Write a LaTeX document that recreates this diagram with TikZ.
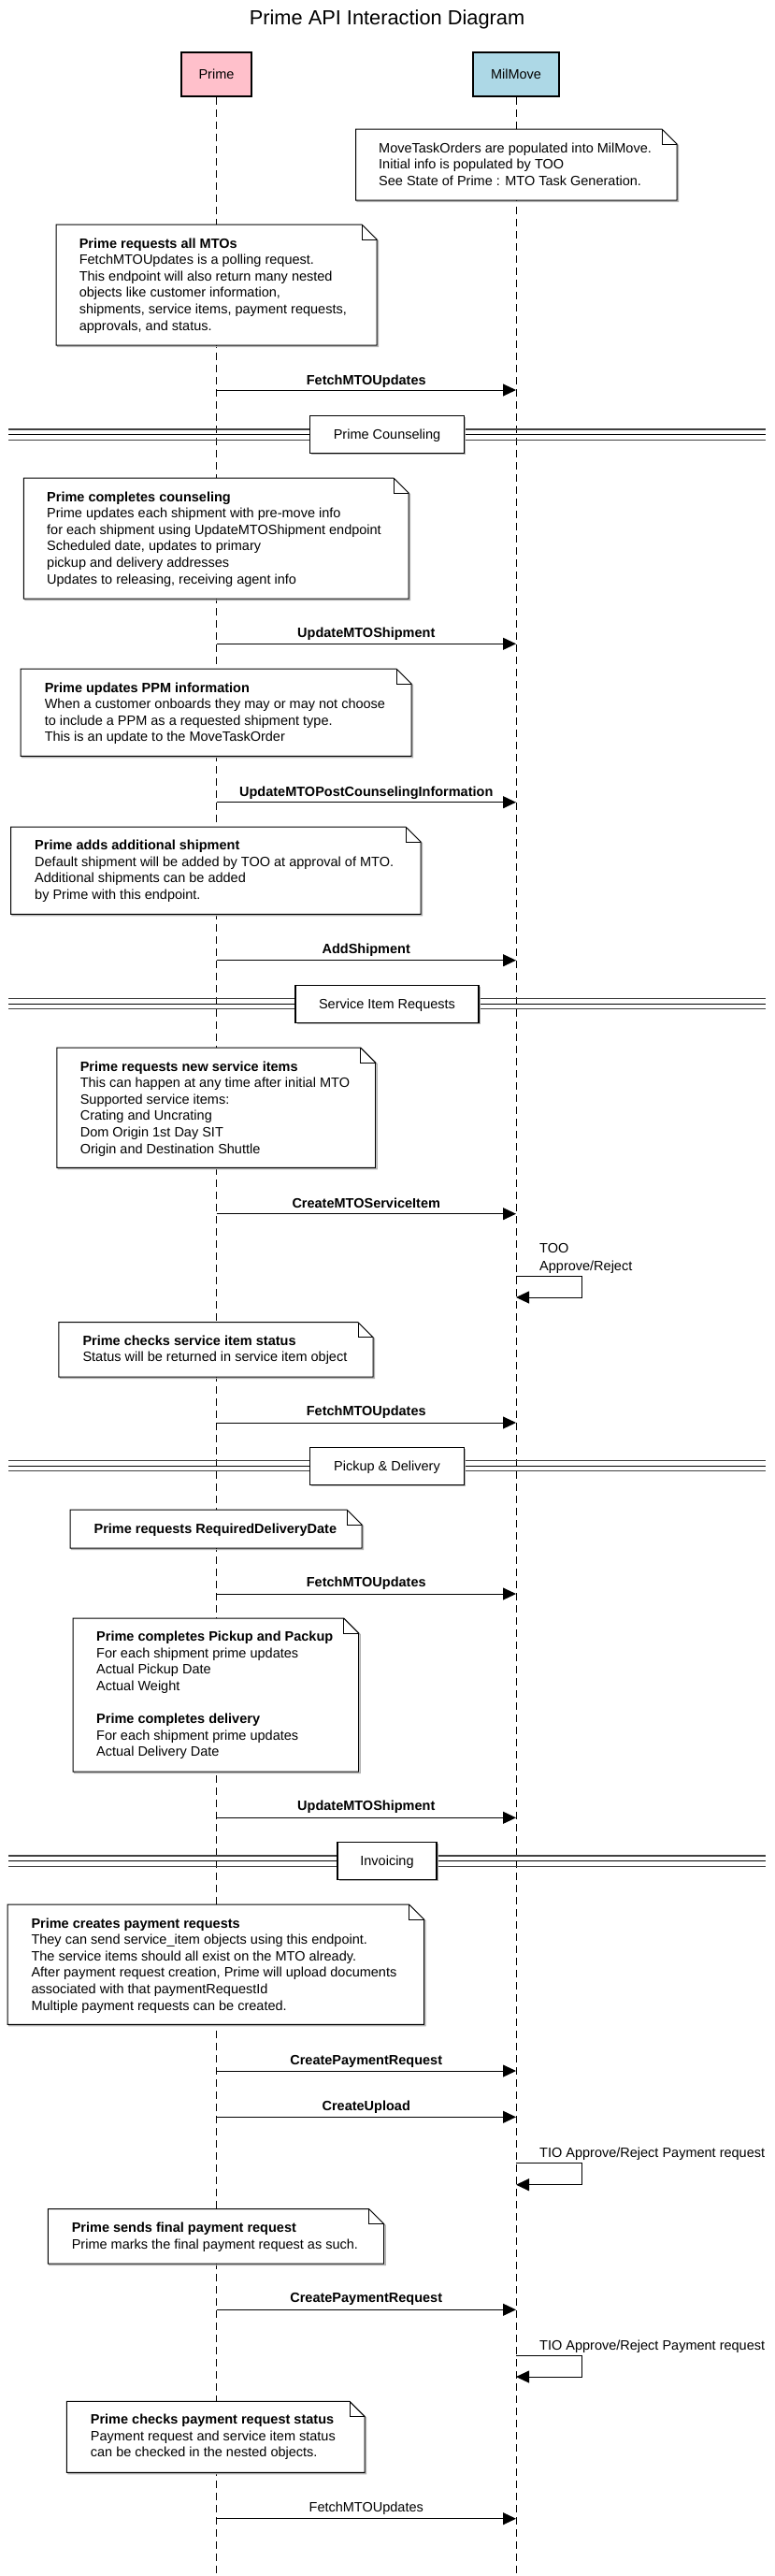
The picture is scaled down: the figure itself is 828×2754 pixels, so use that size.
\documentclass[tikz,border=0pt]{standalone}
\usepackage{fontspec}
\setmainfont{Liberation Sans}
\usetikzlibrary{arrows.meta,shadows}
\definecolor{primepink}{HTML}{FFC0CB}
\definecolor{milblue}{HTML}{ADD8E6}
\tikzset{
  lifeline/.style={line width=1pt, dash pattern=on 8pt off 5pt},
  partbox/.style={draw, line width=2.6pt, font=\fontsize{14.5}{17.6}\selectfont, text height=10.5pt, text depth=0.5pt, inner sep=0pt},
  notefill/.style={draw, line width=1pt, fill=white, line join=miter},
  noteshadow/.style={draw=black!30, line width=1.3pt},
  notetext/.style={anchor=base west, inner sep=0pt, font=\fontsize{14.5}{17.6}\selectfont},
  msg/.style={line width=1pt, line join=miter, -{Triangle[length=14pt,width=13pt]}},
  msglabel/.style={anchor=base, inner sep=0pt, font=\fontsize{14.5}{17.6}\selectfont\bfseries},
  divbox/.style={draw, line width=1.1pt, fill=white, minimum height=40pt, text height=10.5pt, text depth=0.5pt, inner sep=0pt, font=\fontsize{14.5}{17.6}\selectfont, drop shadow={shadow xshift=1.5pt, shadow yshift=-1.5pt, fill=black!30, opacity=1}},
  divtop/.style={line width=1.3pt, draw=black!75},
  divmid/.style={line width=0.9pt, draw=black},
  divbot/.style={line width=1pt, draw=black!75},
}
% note outline: x1, y1, x2, y2
\newcommand\mynote[4]{%
  \pgfmathsetmacro\nfx{#3-16}%
  \pgfmathsetmacro\nfy{#2+16}%
  \draw[noteshadow] (#1+1.5,#2+1.5) -- (\nfx+1.5,#2+1.5) -- (#3+1.5,\nfy+1.5) -- (#3+1.5,#4+1.5) -- (#1+1.5,#4+1.5) -- cycle;
  \draw[notefill] (#1,#2) -- (\nfx,#2) -- (#3,\nfy) -- (#3,#4) -- (#1,#4) -- cycle;
  \draw[notefill, fill=none] (\nfx,#2) -- (\nfx,\nfy) -- (#3,\nfy);
}
% divider: name, y of top line, box width, text
\newcommand\mydiv[4]{%
  \draw[divtop] (9,#2) -- (819,#2);
  \draw[divmid] (9,#2+5.4) -- (819,#2+5.4);
  \draw[divbot] (9,#2+11) -- (819,#2+11);
  \node[divbox, minimum width=#3pt] (#1) at (414,#2+5.5) {#4};
}
% message: id, arrow y, label baseline y, label
\newcommand\mymsg[4]{%
  \coordinate (#1p) at (231.5,#2);
  \coordinate (#1m) at (552,#2);
  \draw[msg] (#1p) -- (#1m);
  \node[msglabel] (#1l) at (391.75,#3) {#4};
}
% self message loop: id, top y, bottom y
\newcommand\myself[3]{%
  \coordinate (#1a) at (552,#2);
  \coordinate (#1c) at (622.5,#3);
  \coordinate (#1b) at (552,#3);
  \draw[msg] (#1a) -| (#1c) -- (#1b);
}
\begin{document}
\begin{tikzpicture}[x=1pt,y=-1pt]
\fill[white] (0,0) rectangle (828,2754);
\useasboundingbox (0,0) rectangle (828,2754);

\node[anchor=base, inner sep=0pt, font=\fontsize{21.8}{26}\selectfont] (title) at (414,27) {Prime API Interaction Diagram};

\node[partbox, fill=primepink, minimum width=75pt, minimum height=47pt] (prime) at (231.5,79.5) {Prime};
\node[partbox, fill=milblue, minimum width=92pt, minimum height=47pt] (milmove) at (552,79.5) {MilMove};

\coordinate (pend) at (231.5,2754);
\coordinate (mend) at (552,2754);
\draw[lifeline] (prime.south) -- (pend);
\draw[lifeline] (milmove.south) -- (mend);

% MTO note over MilMove
\mynote{380.5}{138}{724}{214}
\node[notetext] (n0) at (405,163) {\begin{tabular}[t]{@{}l@{}}MoveTaskOrders are populated into MilMove.\\Initial info is populated by TOO\\See State of Prime : MTO Task Generation.\end{tabular}};

\mynote{60}{240}{403}{369}
\node[notetext] (n1) at (84.6,265) {\begin{tabular}[t]{@{}l@{}}\textbf{Prime requests all MTOs}\\FetchMTOUpdates is a polling request.\\This endpoint will also return many nested\\objects like customer information,\\shipments, service items, payment requests,\\approvals, and status.\end{tabular}};

\mymsg{a1}{417}{411}{FetchMTOUpdates}

\mydiv{d1}{459}{165}{Prime Counseling}

\mynote{25.4}{511}{437}{640}
\node[notetext] (n2) at (50,536) {\begin{tabular}[t]{@{}l@{}}\textbf{Prime completes counseling}\\Prime updates each shipment with pre-move info\\for each shipment using UpdateMTOShipment endpoint\\Scheduled date, updates to primary\\pickup and delivery addresses\\Updates to releasing, receiving agent info\end{tabular}};

\mymsg{a2}{688.3}{681.7}{UpdateMTOShipment}

\mynote{22}{715}{440}{808.3}
\node[notetext] (n3) at (47.6,740) {\begin{tabular}[t]{@{}l@{}}\textbf{Prime updates PPM information}\\When a customer onboards they may or may not choose\\to include a PPM as a requested shipment type.\\This is an update to the MoveTaskOrder\end{tabular}};

\mymsg{a3}{857.7}{851}{UpdateMTOPostCounselingInformation}

\mynote{11.6}{884}{450}{977.3}
\node[notetext] (n4) at (37,908.7) {\begin{tabular}[t]{@{}l@{}}\textbf{Prime adds additional shipment}\\Default shipment will be added by TOO at approval of MTO.\\Additional shipments can be added\\by Prime with this endpoint.\end{tabular}};

\mymsg{a4}{1026.7}{1019.7}{AddShipment}

\mydiv{d2}{1067.7}{196}{Service Item Requests}

\mynote{60.8}{1120}{401.7}{1248.3}
\node[notetext] (n5) at (85.6,1145) {\begin{tabular}[t]{@{}l@{}}\textbf{Prime requests new service items}\\This can happen at any time after initial MTO\\Supported service items:\\Crating and Uncrating\\Dom Origin 1st Day SIT\\Origin and Destination Shuttle\end{tabular}};

\mymsg{a5}{1297.7}{1291}{CreateMTOServiceItem}

\node[notetext, font=\fontsize{14.5}{18.5}\selectfont] (s1t) at (577,1339.5) {\begin{tabular}[t]{@{}l@{}}TOO\\Approve/Reject\end{tabular}};
\myself{s1}{1364}{1387}

\mynote{62.9}{1413.7}{399}{1472}
\node[notetext] (n6) at (88.3,1438) {\begin{tabular}[t]{@{}l@{}}\textbf{Prime checks service item status}\\Status will be returned in service item object\end{tabular}};

\mymsg{a6}{1521}{1513.7}{FetchMTOUpdates}

\mydiv{d3}{1561.7}{165}{Pickup \& Delivery}

\mynote{75}{1614}{387}{1655}
\node[notetext] (n7) at (100.4,1639) {\textbf{Prime requests RequiredDeliveryDate}};

\mymsg{a7}{1704}{1696.7}{FetchMTOUpdates}

\mynote{78.2}{1730}{383.7}{1894}
\node[notetext] (n8) at (103,1754.7) {\begin{tabular}[t]{@{}l@{}}\textbf{Prime completes Pickup and Packup}\\For each shipment prime updates\\Actual Pickup Date\\Actual Weight\\ \\\textbf{Prime completes delivery}\\For each shipment prime updates\\Actual Delivery Date\end{tabular}};

\mymsg{a8}{1943.3}{1935.7}{UpdateMTOShipment}

\mydiv{d4}{1984}{106}{Invoicing}

\mynote{8}{2036}{453.5}{2164.3}
\node[notetext] (n9) at (33.3,2061) {\begin{tabular}[t]{@{}l@{}}\textbf{Prime creates payment requests}\\They can send service\_item objects using this endpoint.\\The service items should all exist on the MTO already.\\After payment request creation, Prime will upload documents\\associated with that paymentRequestId\\Multiple payment requests can be created.\end{tabular}};

\mymsg{a9}{2214}{2207}{CreatePaymentRequest}
\mymsg{a10}{2263.3}{2256}{CreateUpload}

\node[notetext] (s2t) at (577,2306) {TIO Approve/Reject Payment request};
\myself{s2}{2312.3}{2335.7}

\mynote{51.3}{2361.7}{410.7}{2420}
\node[notetext] (n10) at (76.6,2386.7) {\begin{tabular}[t]{@{}l@{}}\textbf{Prime sends final payment request}\\Prime marks the final payment request as such.\end{tabular}};

\mymsg{a11}{2469.3}{2461.7}{CreatePaymentRequest}

\node[notetext] (s3t) at (577,2512.3) {TIO Approve/Reject Payment request};
\myself{s3}{2518.3}{2541}

\mynote{71.4}{2567.3}{390}{2643.3}
\node[notetext] (n11) at (96.7,2591.7) {\begin{tabular}[t]{@{}l@{}}\textbf{Prime checks payment request status}\\Payment request and service item status\\can be checked in the nested objects.\end{tabular}};

\mymsg{a12}{2692.7}{2685.7}{\mdseries FetchMTOUpdates}
\end{tikzpicture}
\end{document}
